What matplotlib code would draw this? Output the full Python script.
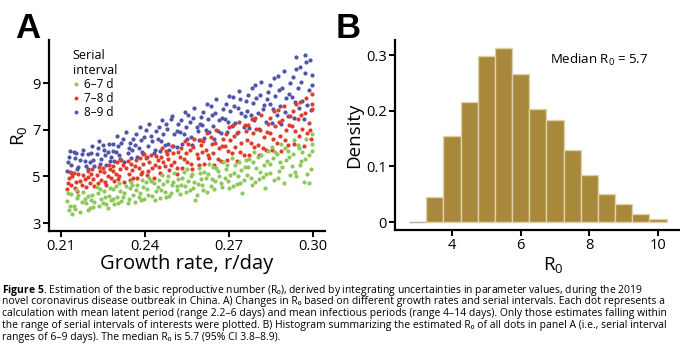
import matplotlib
matplotlib.use("Agg")
import matplotlib.pyplot as plt
from matplotlib.lines import Line2D

# ---- panel A: R0 vs growth rate, by serial interval
green_x = [0.2122, 0.2128, 0.2136, 0.2145, 0.2157, 0.2168, 0.2179, 0.2191, 0.2198, 0.2140,
           0.2204, 0.2211, 0.2219, 0.2227, 0.2236, 0.2244, 0.2253, 0.2262, 0.2271, 0.2278,
           0.2284, 0.2291, 0.2299, 0.2308, 0.2316, 0.2325, 0.2333, 0.2342, 0.2351, 0.2358,
           0.2365, 0.2372, 0.2381, 0.2390, 0.2398, 0.2406, 0.2415, 0.2424, 0.2432, 0.2439,
           0.2446, 0.2453, 0.2462, 0.2470, 0.2479, 0.2487, 0.2496, 0.2505, 0.2513, 0.2519,
           0.2526, 0.2533, 0.2542, 0.2551, 0.2559, 0.2568, 0.2576, 0.2585, 0.2593, 0.2599, 0.2580,
           0.2605, 0.2612, 0.2621, 0.2630, 0.2638, 0.2647, 0.2655, 0.2664, 0.2672, 0.2679,
           0.2685, 0.2692, 0.2701, 0.2710, 0.2718, 0.2727, 0.2735, 0.2744, 0.2752, 0.2759, 0.2745,
           0.2765, 0.2772, 0.2781, 0.2790, 0.2798, 0.2807, 0.2815, 0.2824, 0.2832, 0.2839, 0.2828,
           0.2845, 0.2852, 0.2861, 0.2870, 0.2878, 0.2887, 0.2895, 0.2904, 0.2912, 0.2919,
           0.2925, 0.2932, 0.2941, 0.2950, 0.2958, 0.2967, 0.2975, 0.2984, 0.2992, 0.2998, 0.2996, 0.2985,
           0.2125, 0.2133, 0.2150, 0.2162, 0.2174, 0.2185, 0.2195, 0.2152,
           0.2207, 0.2215, 0.2231, 0.2240, 0.2249, 0.2258, 0.2267, 0.2275,
           0.2287, 0.2295, 0.2304, 0.2312, 0.2321, 0.2338, 0.2347, 0.2355,
           0.2368, 0.2377, 0.2386, 0.2394, 0.2402, 0.2411, 0.2420, 0.2436,
           0.2449, 0.2458, 0.2466, 0.2475, 0.2483, 0.2492, 0.2501, 0.2516,
           0.2529, 0.2538, 0.2546, 0.2555, 0.2563, 0.2572, 0.2589, 0.2596,
           0.2608, 0.2617, 0.2625, 0.2634, 0.2643, 0.2651, 0.2660, 0.2676,
           0.2688, 0.2697, 0.2705, 0.2714, 0.2722, 0.2731, 0.2740, 0.2756,
           0.2768, 0.2777, 0.2786, 0.2794, 0.2803, 0.2811, 0.2820, 0.2836,
           0.2848, 0.2857, 0.2865, 0.2874, 0.2882, 0.2891, 0.2900, 0.2916,
           0.2928, 0.2937, 0.2945, 0.2954, 0.2962, 0.2971, 0.2980, 0.2995]
green_y = [3.95, 3.58, 4.25, 3.72, 4.08, 3.48, 4.35, 3.86, 4.15, 3.40,
           3.66, 4.22, 3.92, 4.55, 3.74, 4.05, 4.38, 3.82, 4.18, 3.98,
           4.45, 3.80, 4.12, 4.70, 3.95, 4.30, 4.58, 4.02, 4.78, 4.20,
           3.92, 4.62, 4.28, 4.85, 4.05, 4.48, 4.95, 4.15, 4.70, 4.36,
           4.55, 4.08, 5.05, 4.32, 4.80, 4.18, 4.62, 5.15, 4.42, 4.90,
           4.25, 4.95, 4.58, 5.30, 4.40, 5.10, 4.75, 4.22, 5.38, 4.88, 4.00,
           4.65, 5.20, 4.35, 5.55, 4.90, 4.48, 5.35, 5.02, 4.72, 5.60,
           4.95, 5.48, 4.50, 5.80, 5.15, 4.68, 5.62, 5.28, 4.85, 5.70, 4.30,
           5.05, 5.75, 4.62, 6.05, 5.35, 4.88, 5.90, 5.50, 5.12, 6.10, 4.50,
           5.55, 6.25, 4.85, 5.95, 5.25, 6.38, 4.72, 5.70, 6.10, 5.05,
           5.45, 6.55, 5.00, 6.20, 5.65, 4.78, 6.62, 5.90, 5.30, 6.40, 6.80, 4.72,
           4.30, 3.75, 3.62, 4.20, 3.92, 4.05, 3.55, 4.40,
           4.00, 3.70, 4.30, 4.45, 3.88, 4.12, 3.65, 4.50,
           4.05, 4.60, 3.88, 4.38, 4.10, 3.85, 4.50, 4.65,
           4.40, 4.10, 3.98, 4.55, 4.75, 4.22, 4.82, 4.00,
           4.85, 4.40, 4.68, 4.12, 5.00, 4.28, 4.75, 4.58,
           4.62, 5.20, 4.32, 4.82, 5.00, 4.50, 4.68, 5.15,
           4.42, 4.95, 5.10, 4.60, 5.42, 4.80, 5.25, 4.55,
           5.30, 4.80, 5.05, 4.58, 5.50, 5.00, 4.72, 5.40,
           5.40, 4.95, 5.60, 4.75, 5.85, 5.20, 4.98, 5.65,
           5.15, 5.80, 6.05, 4.95, 5.60, 5.40, 6.20, 5.85,
           5.95, 5.20, 6.35, 5.48, 6.05, 5.75, 5.10, 6.10]

red_x = [0.2122, 0.2128, 0.2136, 0.2145, 0.2157, 0.2168, 0.2179, 0.2191, 0.2198, 0.2140,
         0.2204, 0.2211, 0.2219, 0.2227, 0.2236, 0.2244, 0.2253, 0.2262, 0.2271, 0.2278,
         0.2284, 0.2291, 0.2299, 0.2308, 0.2316, 0.2325, 0.2333, 0.2342, 0.2351, 0.2358,
         0.2365, 0.2372, 0.2381, 0.2390, 0.2398, 0.2406, 0.2415, 0.2424, 0.2432, 0.2439,
         0.2446, 0.2453, 0.2462, 0.2470, 0.2479, 0.2487, 0.2496, 0.2505, 0.2513, 0.2519,
         0.2526, 0.2533, 0.2542, 0.2551, 0.2559, 0.2568, 0.2576, 0.2585, 0.2593, 0.2599,
         0.2605, 0.2612, 0.2621, 0.2630, 0.2638, 0.2647, 0.2655, 0.2664, 0.2672, 0.2679,
         0.2685, 0.2692, 0.2701, 0.2710, 0.2718, 0.2727, 0.2735, 0.2744, 0.2752, 0.2759,
         0.2765, 0.2772, 0.2781, 0.2790, 0.2798, 0.2807, 0.2815, 0.2824, 0.2832, 0.2839,
         0.2845, 0.2852, 0.2861, 0.2870, 0.2878, 0.2887, 0.2895, 0.2904, 0.2912, 0.2919,
         0.2925, 0.2932, 0.2941, 0.2950, 0.2958, 0.2967, 0.2975, 0.2984, 0.2992, 0.2998, 0.2996, 0.2988,
         0.2125, 0.2133, 0.2150, 0.2162, 0.2174, 0.2185, 0.2195, 0.2152,
         0.2207, 0.2215, 0.2231, 0.2240, 0.2249, 0.2258, 0.2267, 0.2275,
         0.2287, 0.2295, 0.2304, 0.2312, 0.2321, 0.2338, 0.2347, 0.2355,
         0.2368, 0.2377, 0.2386, 0.2394, 0.2402, 0.2411, 0.2420, 0.2436,
         0.2449, 0.2458, 0.2466, 0.2475, 0.2483, 0.2492, 0.2501, 0.2516,
         0.2529, 0.2538, 0.2546, 0.2555, 0.2563, 0.2572, 0.2589, 0.2596,
         0.2608, 0.2617, 0.2625, 0.2634, 0.2643, 0.2651, 0.2660, 0.2676,
         0.2688, 0.2697, 0.2705, 0.2714, 0.2722, 0.2731, 0.2740, 0.2756,
         0.2768, 0.2777, 0.2786, 0.2794, 0.2803, 0.2811, 0.2820, 0.2836,
         0.2848, 0.2857, 0.2865, 0.2874, 0.2882, 0.2891, 0.2900, 0.2916,
         0.2928, 0.2937, 0.2945, 0.2954, 0.2962, 0.2971, 0.2980, 0.2995]
red_y = [4.45, 4.92, 4.65, 5.15, 4.38, 4.80, 5.05, 4.55, 4.98, 5.00,
         4.72, 5.30, 4.60, 5.05, 5.42, 4.85, 5.18, 4.65, 5.48, 4.95,
         5.22, 4.80, 5.60, 5.02, 5.70, 4.78, 5.35, 5.10, 5.55, 4.92,
         5.45, 4.95, 5.80, 5.20, 5.95, 5.05, 5.62, 5.35, 4.92, 5.88,
         5.70, 5.15, 6.20, 5.45, 5.95, 5.28, 6.30, 5.60, 5.12, 6.05,
         5.85, 5.35, 6.50, 5.62, 6.15, 5.30, 6.62, 5.95, 5.48, 6.35,
         6.05, 5.55, 6.85, 5.80, 6.40, 5.50, 7.00, 6.20, 5.68, 6.62,
         6.30, 5.72, 7.10, 6.00, 6.75, 5.68, 7.35, 6.45, 5.90, 6.95,
         6.55, 5.92, 7.45, 6.25, 7.05, 5.90, 7.65, 6.70, 6.12, 7.25,
         6.85, 6.15, 7.80, 6.45, 7.35, 6.10, 8.00, 7.00, 6.35, 7.60,
         7.15, 6.40, 8.10, 6.75, 7.65, 6.32, 8.35, 7.30, 6.60, 7.90, 8.55, 7.00,
         4.70, 5.20, 4.50, 5.10, 4.62, 4.88, 5.22, 4.75,
         5.10, 4.90, 4.70, 5.25, 5.38, 4.78, 5.02, 5.30,
         5.45, 5.10, 4.88, 5.30, 5.48, 5.65, 4.85, 5.28,
         5.70, 5.35, 5.10, 5.55, 5.78, 5.25, 5.90, 5.50,
         5.40, 5.85, 5.62, 6.10, 5.75, 5.50, 6.00, 5.35,
         6.20, 5.75, 6.00, 6.40, 5.55, 6.25, 5.80, 6.55,
         6.50, 6.15, 5.90, 6.70, 6.00, 6.45, 5.75, 6.30,
         6.80, 6.10, 6.55, 7.20, 6.25, 6.90, 6.05, 7.20,
         7.20, 6.45, 6.85, 7.50, 6.35, 7.00, 6.20, 6.90,
         7.50, 6.60, 7.15, 7.85, 6.75, 7.40, 6.55, 7.20,
         7.80, 6.95, 7.45, 8.20, 7.05, 7.70, 6.85, 8.10]

blue_x = [0.2122, 0.2128, 0.2136, 0.2145, 0.2157, 0.2168, 0.2179, 0.2191, 0.2198, 0.2140,
          0.2204, 0.2211, 0.2219, 0.2227, 0.2236, 0.2244, 0.2253, 0.2262, 0.2271, 0.2278,
          0.2284, 0.2291, 0.2299, 0.2308, 0.2316, 0.2325, 0.2333, 0.2342, 0.2351, 0.2358,
          0.2365, 0.2372, 0.2381, 0.2390, 0.2398, 0.2406, 0.2415, 0.2424, 0.2432, 0.2439,
          0.2446, 0.2453, 0.2462, 0.2470, 0.2479, 0.2487, 0.2496, 0.2505, 0.2513, 0.2519,
          0.2526, 0.2533, 0.2542, 0.2551, 0.2559, 0.2568, 0.2576, 0.2585, 0.2593, 0.2599,
          0.2605, 0.2612, 0.2621, 0.2630, 0.2638, 0.2647, 0.2655, 0.2664, 0.2672, 0.2679,
          0.2685, 0.2692, 0.2701, 0.2710, 0.2718, 0.2727, 0.2735, 0.2744, 0.2752, 0.2759,
          0.2765, 0.2772, 0.2781, 0.2790, 0.2798, 0.2807, 0.2815, 0.2824, 0.2832, 0.2839,
          0.2845, 0.2852, 0.2861, 0.2870, 0.2878, 0.2887, 0.2895, 0.2904, 0.2912, 0.2919,
          0.2925, 0.2932, 0.2941, 0.2950, 0.2958, 0.2967, 0.2975, 0.2984, 0.2992, 0.2998,
          0.2970, 0.2990, 0.2940,
          0.2125, 0.2133, 0.2150, 0.2162, 0.2174, 0.2185, 0.2195, 0.2152,
          0.2207, 0.2215, 0.2231, 0.2240, 0.2249, 0.2258, 0.2267, 0.2275,
          0.2287, 0.2295, 0.2304, 0.2312, 0.2321, 0.2338, 0.2347, 0.2355,
          0.2368, 0.2377, 0.2386, 0.2394, 0.2402, 0.2411, 0.2420, 0.2436,
          0.2449, 0.2458, 0.2466, 0.2475, 0.2483, 0.2492, 0.2501, 0.2516,
          0.2529, 0.2538, 0.2546, 0.2555, 0.2563, 0.2572, 0.2589, 0.2596,
          0.2608, 0.2617, 0.2625, 0.2634, 0.2643, 0.2651, 0.2660, 0.2676,
          0.2688, 0.2697, 0.2705, 0.2714, 0.2722, 0.2731, 0.2740, 0.2756,
          0.2768, 0.2777, 0.2786, 0.2794, 0.2803, 0.2811, 0.2820, 0.2836,
          0.2848, 0.2857, 0.2865, 0.2874, 0.2882, 0.2891, 0.2900, 0.2916,
          0.2928, 0.2937, 0.2945, 0.2954, 0.2962, 0.2971, 0.2980, 0.2995]
blue_y = [5.25, 5.85, 5.50, 6.05, 5.30, 5.70, 6.15, 5.45, 5.95, 5.15,
          5.60, 6.30, 5.45, 5.95, 6.50, 5.75, 6.15, 5.50, 6.40, 5.85,
          6.10, 5.65, 6.75, 5.90, 6.45, 5.62, 6.90, 6.20, 5.80, 6.60,
          6.35, 5.85, 7.10, 6.05, 6.70, 5.82, 7.25, 6.50, 6.00, 6.95,
          6.60, 6.10, 7.40, 6.35, 7.05, 6.12, 7.60, 6.80, 6.25, 7.25,
          6.90, 6.38, 7.75, 6.60, 7.35, 6.35, 7.95, 7.10, 6.55, 7.55,
          7.20, 6.65, 8.10, 6.90, 7.65, 6.62, 8.30, 7.40, 6.85, 7.90,
          7.45, 6.90, 8.45, 7.15, 8.00, 6.88, 8.65, 7.70, 7.10, 8.25,
          7.80, 7.08, 8.80, 7.40, 8.35, 7.05, 9.05, 8.05, 7.35, 8.60,
          8.10, 7.30, 9.20, 7.65, 8.70, 7.25, 9.50, 8.35, 7.60, 9.00,
          8.40, 7.50, 9.60, 7.95, 9.05, 7.45, 9.90, 8.70, 7.85, 9.35,
          10.20, 10.00, 10.10,
          5.60, 6.10, 5.80, 5.40, 5.95, 5.65, 5.30, 6.00,
          6.00, 5.70, 6.20, 5.55, 6.35, 5.90, 6.05, 5.65,
          6.40, 6.05, 6.30, 5.75, 6.60, 6.00, 6.45, 6.15,
          6.80, 6.20, 6.55, 5.95, 7.00, 6.30, 6.75, 6.15,
          7.10, 6.50, 6.80, 7.25, 6.40, 7.45, 6.30, 6.95,
          7.40, 6.80, 7.10, 7.65, 6.70, 7.50, 6.95, 7.25,
          7.75, 7.00, 7.45, 8.00, 7.15, 7.70, 6.95, 7.50,
          8.10, 7.35, 7.80, 8.40, 7.30, 7.95, 8.30, 7.60,
          8.50, 7.65, 8.15, 8.90, 7.70, 8.50, 7.90, 8.30,
          8.90, 7.90, 8.45, 9.30, 8.00, 8.80, 7.75, 8.55,
          9.25, 8.20, 8.80, 9.70, 8.25, 9.45, 8.05, 8.90]

series_labels = ["6\u20137 d", "7\u20138 d", "8\u20139 d"]

# ---- panel B: histogram of R0 (bin width 0.5)
bin_left = [2.75, 3.25, 3.75, 4.25, 4.75, 5.25, 5.75, 6.25, 6.75, 7.25, 7.75, 8.25, 8.75, 9.25, 9.75]
density = [0.0, 0.046, 0.155, 0.216, 0.299, 0.312, 0.266, 0.203, 0.184, 0.130, 0.085, 0.050, 0.032, 0.014, 0.005]
median_r0 = 5.7

GREEN = "#8dc85a"
RED = "#e03c2c"
BLUE = "#4f55a8"
BAR = "#a8883a"

plt.rcParams["font.family"] = ["Open Sans", "DejaVu Sans"]
plt.rcParams["mathtext.fontset"] = "custom"
plt.rcParams["mathtext.rm"] = "Open Sans"
plt.rcParams["mathtext.it"] = "Open Sans:italic"
plt.rcParams["mathtext.bf"] = "Open Sans:bold"

fig = plt.figure(figsize=(6.8, 3.52), dpi=100)


def style_axes(ax):
    for side in ["top", "right"]:
        ax.spines[side].set_visible(False)
    for side in ["left", "bottom"]:
        ax.spines[side].set_linewidth(1.6)
    ax.tick_params(width=1.4, length=4, labelsize=10.5, pad=2)


# panel A
axA = fig.add_axes([0.072, 0.3438, 0.406, 0.5426])
axA.scatter(blue_x, blue_y, s=9, color=BLUE, linewidths=0)
axA.scatter(red_x, red_y, s=9, color=RED, linewidths=0)
axA.scatter(green_x, green_y, s=9, color=GREEN, linewidths=0)
axA.set_xlim(0.2057, 0.3043)
axA.set_ylim(2.66, 10.85)
axA.set_xticks([0.21, 0.24, 0.27, 0.30])
axA.set_xticklabels(["0.21", "0.24", "0.27", "0.30"])
axA.set_yticks([3, 5, 7, 9])
style_axes(axA)
axA.set_xlabel("Growth rate, r/day", fontsize=14.5, labelpad=0)
axA.set_ylabel("R$_0$", fontsize=13.5, labelpad=2)

handles = [Line2D([], [], marker="o", linestyle="none", markersize=2.8,
                  markerfacecolor=c, markeredgewidth=0) for c in (GREEN, RED, BLUE)]
leg = axA.legend(handles, series_labels, title="Serial\ninterval", loc="upper left",
                 bbox_to_anchor=(0.06, 0.99), frameon=False, fontsize=8.5,
                 title_fontsize=9, handlelength=0.6, handletextpad=0.4,
                 labelspacing=0.08, borderaxespad=0.2, alignment="left")

# panel B
axB = fig.add_axes([0.581, 0.3466, 0.419, 0.5398])
edges = ["#b0b0b0"] + ["#ddd2ab"] * (len(bin_left) - 1)
axB.bar(bin_left, density, width=0.5, align="edge", color=BAR,
        edgecolor=edges, linewidth=1.0)
axB.set_xlim(2.34, 10.64)
axB.set_ylim(-0.014, 0.327)
axB.set_xticks([4, 6, 8, 10])
axB.set_yticks([0, 0.1, 0.2, 0.3])
axB.set_yticklabels(["0", "0.1", "0.2", "0.3"])
style_axes(axB)
axB.set_xlabel("R$_0$", fontsize=13.5, labelpad=1)
axB.xaxis.label.set_x(0.554)
axB.set_ylabel("Density", fontsize=13.5, labelpad=2)
axB.text(0.544, 0.895, "Median R$_0$ = %.1f" % median_r0, transform=axB.transAxes,
         fontsize=9.5, va="center", ha="left")

# panel letters
fig.text(15 / 680, 1 - 38 / 352, "A", fontsize=25, fontweight="bold",
         family="Liberation Sans", va="baseline")
fig.text(336 / 680, 1 - 38 / 352, "B", fontsize=25, fontweight="bold",
         family="Liberation Sans", va="baseline")

# caption
caption = [
    r"$\bf{Figure\ 5}$" + ". Estimation of the basic reproductive number (R\u2080), derived by integrating uncertainties in parameter values, during the 2019",
    "novel coronavirus disease outbreak in China. A) Changes in R\u2080 based on different growth rates and serial intervals. Each dot represents a",
    "calculation with mean latent period (range 2.2\u20136 days) and mean infectious periods (range 4\u201314 days). Only those estimates falling within",
    "the range of serial intervals of interests were plotted. B) Histogram summarizing the estimated R\u2080 of all dots in panel A (i.e., serial interval",
    "ranges of 6\u20139 days). The median R\u2080 is 5.7 (95% CI 3.8\u20138.9).",
]
for i, line in enumerate(caption):
    fig.text(2 / 680, 1 - (290 + 11.8 * i) / 352, line, fontsize=7.45,
             va="center", ha="left")

fig.savefig("out.png", dpi=100)
